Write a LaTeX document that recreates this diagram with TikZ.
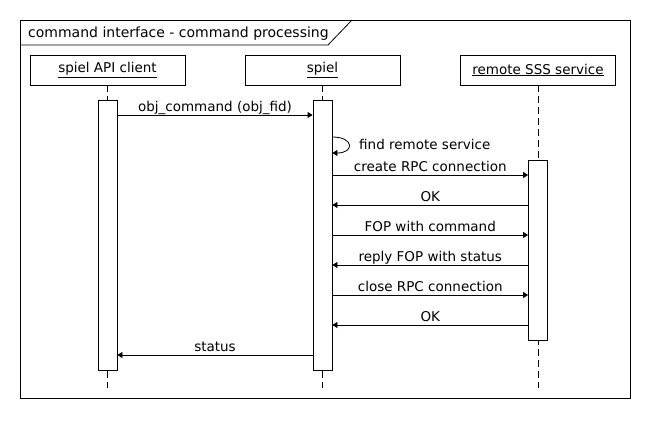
\documentclass[tikz,border=0pt]{standalone}
\usepackage{fontspec}
\setmainfont{DejaVu Sans}
\usetikzlibrary{arrows.meta,positioning,calc}
\tikzset{
  >={Triangle[length=5pt,width=6pt]},
  sqtext/.style={font=\fontsize{13.5}{16}\selectfont},
  frm/.style={line width=0.8pt},
  frmlbl/.style={font=\fontsize{14}{16}\selectfont,anchor=base west,inner sep=0pt},
  partbox/.style={draw,line width=0.8pt,minimum width=155pt,minimum height=30pt,
    inner sep=0pt,sqtext},
  actbox/.style={draw,fill=white,line width=0.8pt,minimum width=19pt,
    inner sep=0pt,anchor=north},
  lifeln/.style={line width=0.8pt,dash pattern=on 7pt off 4pt},
  msg/.style={->,line width=0.8pt},
  msglbl/.style={sqtext,anchor=base,yshift=3.5pt,inner sep=0pt},
}

\begin{document}
\begin{tikzpicture}[x=1pt,y=-1pt]
  \useasboundingbox (0,0) rectangle (650,420);
  % frame
  \draw[frm] (20,20) rectangle (630,398);
  \node[frmlbl] (ttl) at (28,37.5) {command interface - command processing};
  \draw[frm] (20,45) -- (328,45) -- (352,20);
  % participants
  \node[partbox] (cli) at (107.5,70) {\underline{spiel API client}};
  \node[partbox] (spl) at (322.5,70) {\underline{spiel}};
  \node[partbox] (rem) at (538,70) {\underline{remote SSS service}};
  \coordinate (cliend) at (107.5,388);
  \coordinate (splend) at (322.5,388);
  \coordinate (remend) at (538,388);
  \draw[lifeln] (cli.south) -- (cliend);
  \draw[lifeln] (spl.south) -- (splend);
  \draw[lifeln] (rem.south) -- (remend);
  \node[actbox,minimum height=270pt] (cliact) at (107.5,100) {};
  \node[actbox,minimum height=270pt] (splact) at (322.5,100) {};
  \node[actbox,minimum height=180pt] (remact) at (538,160) {};
  % messages
  \coordinate (m1) at (0,115);
  \coordinate (m2) at (0,137);
  \coordinate (m2b) at (0,153);
  \coordinate (m3) at (0,175);
  \coordinate (m4) at (0,205);
  \coordinate (m5) at (0,235);
  \coordinate (m6) at (0,265);
  \coordinate (m7) at (0,295);
  \coordinate (m8) at (0,325);
  \coordinate (m9) at (0,355);
  \draw[msg] (cliact.east |- m1) -- node[msglbl] {obj\_command (obj\_fid)} (splact.west |- m1);
  \draw[msg] (splact.east |- m2) .. controls +(22,0) and +(22,0) .. (splact.east |- m2b);
  \node[sqtext,anchor=base west,inner sep=0pt] (findlbl) at (359,149) {find remote service};
  \draw[msg] (splact.east |- m3) -- node[msglbl] {create RPC connection} (remact.west |- m3);
  \draw[msg] (remact.west |- m4) -- node[msglbl] {OK} (splact.east |- m4);
  \draw[msg] (splact.east |- m5) -- node[msglbl] {FOP with command} (remact.west |- m5);
  \draw[msg] (remact.west |- m6) -- node[msglbl] {reply FOP with status} (splact.east |- m6);
  \draw[msg] (splact.east |- m7) -- node[msglbl] {close RPC connection} (remact.west |- m7);
  \draw[msg] (remact.west |- m8) -- node[msglbl] {OK} (splact.east |- m8);
  \draw[msg] (splact.west |- m9) -- node[msglbl] {status} (cliact.east |- m9);
\end{tikzpicture}
\end{document}
